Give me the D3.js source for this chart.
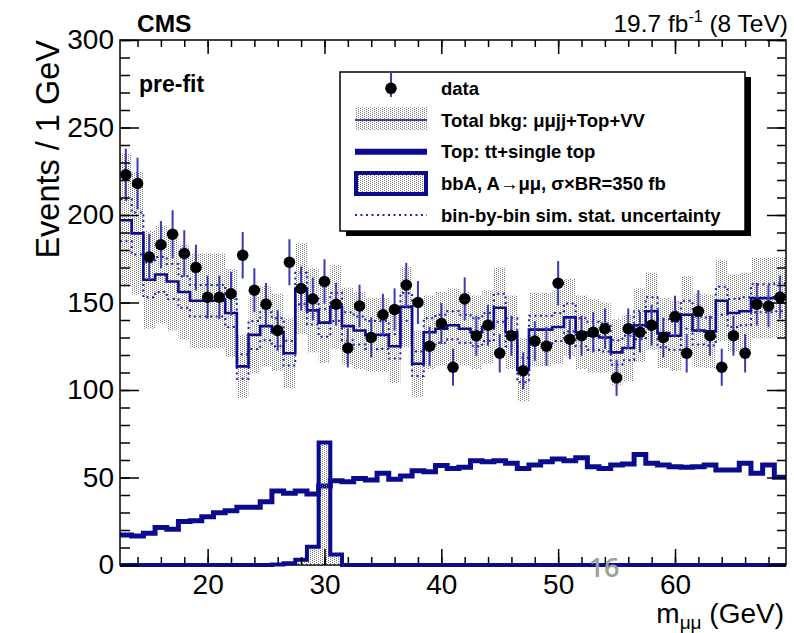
<!DOCTYPE html>
<html>
<head>
<meta charset="utf-8">
<script src="https://cdn.jsdelivr.net/npm/d3@7"></script>
<style>
  body { margin: 0; background: #fff; }
  svg { display: block; }
  text { font-family: "Liberation Sans", Arial, sans-serif; }
</style>
</head>
<body>
<svg></svg>
<script>
// bin centres, 1 GeV bins
const massBins = d3.range(13, 70)

const dataCounts = [223, 218, 176, 183, 189, 178, 170, 153, 153, 155,
    177, 157, 149, 134, 173, 158, 152, 162, 149, 124,
    148, 130, 143, 146, 160, 150, 125, 138, 113, 152,
    131, 137, 121, 131, 111, 128, 125, 161, 129, 131,
    133, 135, 107, 135, 133, 137, 130, 142, 121, 145,
    131, 113, 131, 121, 149, 148, 153]

const totalBkg = [197, 189.5, 163, 166, 162, 156, 151, 151, 151, 144,
    113.5, 131.5, 136.5, 133, 121, 158, 145.5, 138.5, 147.5, 136.5,
    134, 131.5, 131.5, 125, 147.5, 115, 133, 135, 137, 135,
    133, 136, 147, 133, 111.5, 134.5, 134.5, 136, 141.5, 133,
    131, 130, 121.5, 124, 137, 145, 132.5, 131, 143, 134,
    133.5, 151, 144, 145, 152.5, 152.5, 153]

// half width of the grey band
const bkgUnc = [38, 35, 28, 28, 28, 27, 27, 27, 27, 25,
    18, 22, 23, 22, 20, 26, 24, 23, 24, 22,
    22, 21, 21, 21, 23, 19, 21, 21, 21, 21,
    21, 21, 23, 21, 18, 21, 21, 21, 22, 21,
    21, 20, 19, 19, 21, 22, 20, 20, 22, 21,
    21, 23, 22, 22, 23, 23, 23]

// half width of the dotted bin-by-bin band
const simStat = [12, 12, 10, 10, 10, 9, 9, 9, 9, 8,
    7, 8, 8, 8, 7, 9, 8, 8, 8, 8,
    8, 8, 8, 7, 8, 7, 8, 8, 8, 8,
    8, 8, 8, 8, 7, 8, 8, 8, 8, 8,
    8, 8, 7, 7, 8, 8, 8, 8, 8, 8,
    8, 8, 8, 8, 8, 8, 8]

const topBkg = [17.1, 16.6, 18.1, 21.5, 20.4, 24.8, 25.3, 27.6, 29.9, 31,
    33, 33, 36.2, 42.3, 41, 42.3, 40.6, 45.1, 48.2, 47.6,
    49.5, 48.6, 52.4, 49, 50.9, 53.9, 53.3, 56.8, 55.2, 55.8,
    59.6, 59, 59.6, 58.1, 55.2, 57.1, 59, 60.6, 59.6, 61.3,
    56.2, 55.2, 57.1, 57.7, 63.2, 58.1, 57.1, 56.2, 55.8, 56.2,
    57.1, 54.3, 54.3, 58.1, 52.4, 57.1, 50.1]

const signal = [0, 0, 0, 0, 0, 0, 0, 0, 0, 0,
    0, 0, 0, 0.3, 1, 3, 10.5, 70, 6, 0,
    0, 0, 0, 0, 0, 0, 0, 0, 0, 0,
    0, 0, 0, 0, 0, 0, 0, 0, 0, 0,
    0, 0, 0, 0, 0, 0, 0, 0, 0, 0,
    0, 0, 0, 0, 0, 0, 0]

const yMajor = [0, 50, 100, 150, 200, 250, 300]
const yMinor = d3.range(0, 301, 10)
const xMajor = [20, 30, 40, 50, 60]
const xMinor = d3.range(14, 70, 2)

const legendLabels = ["data", "Total bkg: \u03bc\u03bcjj+Top+VV", "Top: tt+single top",
    "bbA, A\u2192\u03bc\u03bc, \u03c3\u00d7BR=350 fb", "bin-by-bin sim. stat. uncertainty"]

const
    WIDTH = 794,
    HEIGHT = 633,
    LEFT = 120,
    RIGHT = 786,
    TOP = 40,
    BOTTOM = 565,
    BLUE = "#0b0b8f",
    ERRBLUE = "#3a3ab8"

const x = d3.scaleLinear().domain([12.5, 69.5]).range([LEFT, RIGHT])
const y = d3.scaleLinear().domain([0, 300]).range([BOTTOM, TOP])

let svg = d3.select("svg")
    .attr("width", WIDTH)
    .attr("height", HEIGHT)

let defs = svg.append("defs")
let pat = defs.append("pattern")
    .attr("id", "stipple")
    .attr("patternUnits", "userSpaceOnUse")
    .attr("width", 4)
    .attr("height", 2)
pat.append("rect").attr("x", 0).attr("y", 0).attr("width", 1).attr("height", 1).attr("fill", "#7a7a7a")
pat.append("rect").attr("x", 2).attr("y", 1).attr("width", 1).attr("height", 1).attr("fill", "#7a7a7a")

defs.append("clipPath").attr("id", "plotclip")
    .append("rect")
    .attr("x", LEFT).attr("y", TOP)
    .attr("width", RIGHT - LEFT).attr("height", BOTTOM - TOP)

// step path helper: value per bin -> points at bin edges
function stepPoints(vals) {
    let pts = massBins.map((m, i) => [m - 0.5, vals[i]])
    pts.push([massBins[massBins.length - 1] + 0.5, vals[vals.length - 1]])
    return pts
}
const stepLine = d3.line()
    .x(d => x(d[0]))
    .y(d => y(d[1]))
    .curve(d3.curveStepAfter)

let plot = svg.append("g").attr("clip-path", "url(#plotclip)")

// grey total bkg uncertainty band
plot.append("g").selectAll("rect")
    .data(massBins)
    .join("rect")
    .attr("x", m => x(m - 0.5))
    .attr("width", m => x(m + 0.5) - x(m - 0.5))
    .attr("y", (m, i) => y(totalBkg[i] + bkgUnc[i]))
    .attr("height", (m, i) => y(totalBkg[i] - bkgUnc[i]) - y(totalBkg[i] + bkgUnc[i]))
    .attr("fill", "url(#stipple)")

// dotted sim stat lines
for (const sgn of [1, -1]) {
    plot.append("path")
        .attr("d", stepLine(stepPoints(totalBkg.map((v, i) => v + sgn * simStat[i]))))
        .attr("fill", "none")
        .attr("stroke", "#2020c8")
        .attr("stroke-width", 2)
        .attr("stroke-dasharray", "2,3.5")
}

// total bkg line
plot.append("path")
    .attr("d", stepLine(stepPoints(totalBkg)))
    .attr("fill", "none")
    .attr("stroke", BLUE)
    .attr("stroke-width", 2.6)

// top line
plot.append("path")
    .attr("d", stepLine(stepPoints(topBkg)))
    .attr("fill", "none")
    .attr("stroke", BLUE)
    .attr("stroke-width", 5)

// FRAME
svg.append("rect")
    .attr("x", LEFT).attr("y", TOP)
    .attr("width", RIGHT - LEFT).attr("height", BOTTOM - TOP)
    .attr("fill", "none")
    .attr("stroke", "#000")
    .attr("stroke-width", 1.5)

// signal histogram
const sigArea = d3.area()
    .x(d => x(d[0]))
    .y0(y(0))
    .y1(d => y(d[1]))
    .curve(d3.curveStepAfter)
svg.append("path")
    .attr("d", sigArea(stepPoints(signal)))
    .attr("fill", "url(#stipple)")
svg.append("path")
    .attr("d", stepLine(stepPoints(signal)))
    .attr("fill", "none")
    .attr("stroke", BLUE)
    .attr("stroke-width", 4)

// data points with sqrt(N) bars
let dataG = svg.append("g")
dataG.selectAll("line")
    .data(massBins)
    .join("line")
    .attr("x1", m => x(m)).attr("x2", m => x(m))
    .attr("y1", (m, i) => y(dataCounts[i] + Math.sqrt(dataCounts[i])))
    .attr("y2", (m, i) => y(dataCounts[i] - Math.sqrt(dataCounts[i])))
    .attr("stroke", ERRBLUE)
    .attr("stroke-width", 2)
dataG.selectAll("circle")
    .data(massBins)
    .join("circle")
    .attr("cx", m => x(m))
    .attr("cy", (m, i) => y(dataCounts[i]))
    .attr("r", 5.8)
    .attr("fill", "#000")

// AXES
function styleAxis(g) {
    g.select(".domain").remove()
    g.selectAll("line").attr("stroke", "#000").attr("stroke-width", 1.5)
    g.selectAll("text").attr("font-size", 28).attr("fill", "#000")
        .style("font-family", '"Liberation Sans", Arial, sans-serif')
}
svg.append("g").attr("transform", `translate(${LEFT},0)`)
    .call(d3.axisLeft(y).tickValues(yMinor).tickSize(-10).tickFormat(""))
    .call(styleAxis)
svg.append("g").attr("transform", `translate(${LEFT},0)`)
    .call(d3.axisLeft(y).tickValues(yMajor).tickSize(-19).tickPadding(6))
    .call(styleAxis)
svg.append("g").attr("transform", `translate(${RIGHT},0)`)
    .call(d3.axisRight(y).tickValues(yMinor).tickSize(-9).tickFormat(""))
    .call(styleAxis)
svg.append("g").attr("transform", `translate(${RIGHT},0)`)
    .call(d3.axisRight(y).tickValues(yMajor).tickSize(-19).tickFormat(""))
    .call(styleAxis)
svg.append("g").attr("transform", `translate(0,${BOTTOM})`)
    .call(d3.axisBottom(x).tickValues(xMinor).tickSize(-8).tickFormat(""))
    .call(styleAxis)
svg.append("g").attr("transform", `translate(0,${BOTTOM})`)
    .call(d3.axisBottom(x).tickValues(xMajor).tickSize(-16).tickPadding(9))
    .call(styleAxis)
svg.append("g").attr("transform", `translate(0,${TOP})`)
    .call(d3.axisTop(x).tickValues(xMinor).tickSize(-7).tickFormat(""))
    .call(styleAxis)
svg.append("g").attr("transform", `translate(0,${TOP})`)
    .call(d3.axisTop(x).tickValues(xMajor).tickSize(-14).tickFormat(""))
    .call(styleAxis)

// AXIS TITLES
svg.append("text")
    .attr("transform", "translate(59,40) rotate(-90)")
    .attr("text-anchor", "end")
    .attr("font-size", 32.5)
    .text("Events / 1 GeV")

let xt = svg.append("text")
    .attr("x", RIGHT - 2)
    .attr("y", 623)
    .attr("text-anchor", "end")
    .attr("font-size", 28)
xt.append("tspan").text("m")
xt.append("tspan").attr("font-size", 19).attr("dy", 6).text("\u03bc\u03bc")
xt.append("tspan").attr("dy", -6).text(" (GeV)")

// LABELS
svg.append("text")
    .attr("x", 137).attr("y", 32)
    .attr("font-size", 24.5).attr("font-weight", "bold")
    .text("CMS")
svg.append("text")
    .attr("x", 139).attr("y", 92)
    .attr("font-size", 23).attr("font-weight", "bold")
    .text("pre-fit")
let lumi = svg.append("text")
    .attr("x", 788).attr("y", 32)
    .attr("text-anchor", "end")
    .attr("font-size", 24.5)
lumi.append("tspan").text("19.7 fb")
lumi.append("tspan").attr("font-size", 16).attr("dy", -10).text("-1")
lumi.append("tspan").attr("dy", 10).text(" (8 TeV)")

svg.append("text")
    .attr("x", 604).attr("y", 577)
    .attr("text-anchor", "middle")
    .attr("font-size", 27).attr("font-weight", 600)
    .attr("fill", "#a0a0a0")
    .style("font-family", '"Open Sans", sans-serif')
    .text("16")

// LEGEND
let leg = svg.append("g")
leg.append("rect")
    .attr("x", 346).attr("y", 77)
    .attr("width", 405).attr("height", 159)
    .attr("fill", "#000")
leg.append("rect")
    .attr("x", 340).attr("y", 72)
    .attr("width", 405).attr("height", 159)
    .attr("fill", "#fff")
    .attr("stroke", "#000")
    .attr("stroke-width", 1.5)

const rowY = [88.3, 120, 151.7, 183.3, 215]
leg.selectAll("text.lab")
    .data(legendLabels)
    .join("text")
    .attr("class", "lab")
    .attr("x", 441)
    .attr("y", (d, i) => rowY[i] + 6.5)
    .attr("font-size", 18.5)
    .attr("font-weight", "bold")
    .text(d => d)

// data entry
leg.append("line")
    .attr("x1", 391).attr("x2", 391)
    .attr("y1", 72).attr("y2", 97)
    .attr("stroke", ERRBLUE).attr("stroke-width", 2)
leg.append("circle")
    .attr("cx", 391).attr("cy", rowY[0]).attr("r", 5.8).attr("fill", "#000")
// total bkg entry
leg.append("rect")
    .attr("x", 355).attr("y", 107)
    .attr("width", 72).attr("height", 23)
    .attr("fill", "url(#stipple)")
leg.append("line")
    .attr("x1", 355).attr("x2", 427)
    .attr("y1", rowY[1]).attr("y2", rowY[1])
    .attr("stroke", BLUE).attr("stroke-width", 1.5)
// top entry
leg.append("line")
    .attr("x1", 355).attr("x2", 427)
    .attr("y1", rowY[2]).attr("y2", rowY[2])
    .attr("stroke", BLUE).attr("stroke-width", 6)
// signal entry
leg.append("rect")
    .attr("x", 356).attr("y", 173)
    .attr("width", 70).attr("height", 21)
    .attr("fill", "url(#stipple)")
    .attr("stroke", BLUE).attr("stroke-width", 4)
// stat entry
leg.append("line")
    .attr("x1", 355).attr("x2", 427)
    .attr("y1", rowY[4]).attr("y2", rowY[4])
    .attr("stroke", "#2020c8").attr("stroke-width", 2)
    .attr("stroke-dasharray", "2,3.5")
</script>
</body>
</html>
